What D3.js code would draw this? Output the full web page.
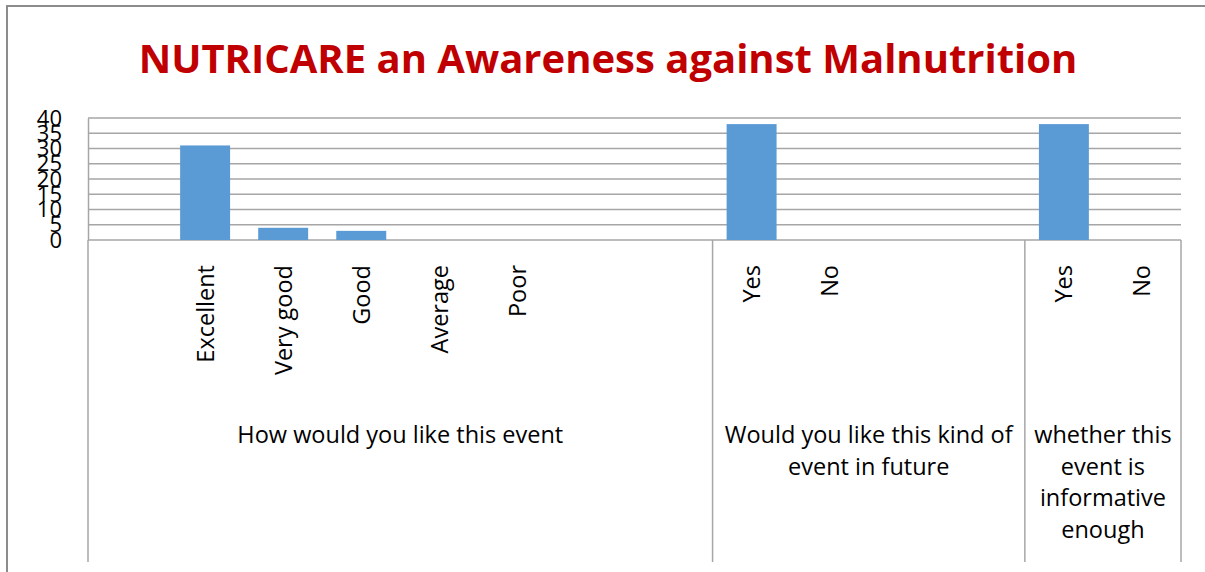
<!DOCTYPE html>
<html>
<head>
<meta charset="utf-8">
<script src="https://cdn.jsdelivr.net/npm/d3@7"></script>
<style>
  body { margin: 0; background: #fff; }
  text { font-family: "Open Sans", sans-serif; fill: #000; }
</style>
</head>
<body>
<div id="chart"></div>
<script>
var svgWidth = 1205;
var svgHeight = 572;

// one slot per row of the sheet, blank rows included
var categories = ["", "Excellent", "Very good", "Good", "Average", "Poor", "", "",
  "Yes", "No", "", "", "Yes", "No"];
var values = [null, 31, 4, 3, 0, 0, null, null, 38, 0, null, null, 38, 0];

var groupSizes = [8, 4, 2];
var groupLabels = [
  ["How would you like this event"],
  ["Would you like this kind of", "event in future"],
  ["whether this", "event is", "informative", "enough"]
];

var yTicks = [0, 5, 10, 15, 20, 25, 30, 35, 40];

var margin = { top: 118, left: 88, right: 24, bottom: 332 };
var plotRight = svgWidth - margin.right;
var plotBottom = svgHeight - margin.bottom;

var svg = d3.select("#chart")
  .append("svg")
  .attr("width", svgWidth)
  .attr("height", svgHeight);

// chart border (runs off the right and bottom of the picture)
svg.append("rect")
  .attr("x", 7)
  .attr("y", 6)
  .attr("width", 1300)
  .attr("height", 700)
  .attr("fill", "none")
  .attr("stroke", "#8c8c8c")
  .attr("stroke-width", 2);

svg.append("text")
  .attr("x", 608)
  .attr("y", 57)
  .attr("text-anchor", "middle")
  .attr("dominant-baseline", "central")
  .style("font-size", "40px")
  .style("font-weight", "bold")
  .style("fill", "#C00000")
  .text("NUTRICARE an Awareness against Malnutrition");

var xScale = d3.scaleBand()
  .domain(d3.range(categories.length))
  .range([margin.left, plotRight])
  .paddingInner(0.36)
  .paddingOuter(0.18);

var yScale = d3.scaleLinear()
  .domain([0, 40])
  .range([plotBottom, margin.top]);

// gridlines
svg.append("g")
  .selectAll("line")
  .data(yTicks)
  .enter()
  .append("line")
  .attr("x1", margin.left)
  .attr("x2", plotRight)
  .attr("y1", d => yScale(d))
  .attr("y2", d => yScale(d))
  .attr("stroke", "#a6a6a6")
  .attr("stroke-width", 1.5);

// value axis
var leftAxis = d3.axisLeft(yScale).tickValues(yTicks).tickSize(0).tickPadding(26);
var yAxis = svg.append("g")
  .attr("transform", `translate(${margin.left}, 0)`)
  .call(leftAxis);
yAxis.select(".domain").attr("stroke", "#a6a6a6").attr("stroke-width", 1.5);
yAxis.selectAll("text")
  .style("font-size", "22px")
  .style("font-family", "Open Sans, sans-serif")
  .attr("fill", "#000");

// bars
svg.append("g")
  .selectAll("rect")
  .data(values.map((v, i) => ({ i: i, v: v })).filter(d => d.v))
  .enter()
  .append("rect")
  .attr("x", d => xScale(d.i))
  .attr("y", d => yScale(d.v))
  .attr("width", xScale.bandwidth())
  .attr("height", d => yScale(0) - yScale(d.v))
  .attr("fill", "#5B9BD5");

// category labels, rotated
svg.append("g")
  .selectAll("text")
  .data(categories)
  .enter()
  .append("text")
  .attr("transform", (d, i) =>
    `translate(${xScale(i) + xScale.bandwidth() / 2}, 265) rotate(-90)`)
  .attr("text-anchor", "end")
  .attr("dy", "0.36em")
  .style("font-size", "23.5px")
  .text(d => d);

// group boundaries and group labels
var step = xScale.step();
var bounds = [0];
groupSizes.forEach(function(n) { bounds.push(bounds[bounds.length - 1] + n); });
var bx = d => margin.left + bounds[d] * step;

svg.append("g")
  .selectAll("line")
  .data(d3.range(bounds.length))
  .enter()
  .append("line")
  .attr("x1", d => bx(d))
  .attr("x2", d => bx(d))
  .attr("y1", plotBottom)
  .attr("y2", 562)
  .attr("stroke", "#a6a6a6")
  .attr("stroke-width", 1.5);

var groupText = svg.append("g")
  .selectAll("text")
  .data(groupLabels)
  .enter()
  .append("text")
  .attr("text-anchor", "middle")
  .style("font-size", "23.5px")
  .attr("x", (d, i) => (bx(i) + bx(i + 1)) / 2);

groupText.selectAll("tspan")
  .data(d => d)
  .enter()
  .append("tspan")
  .attr("x", function() { return d3.select(this.parentNode).attr("x"); })
  .attr("y", (d, j) => 435 + j * 31.5)
  .attr("dy", "0.36em")
  .text(d => d);
</script>
</body>
</html>
